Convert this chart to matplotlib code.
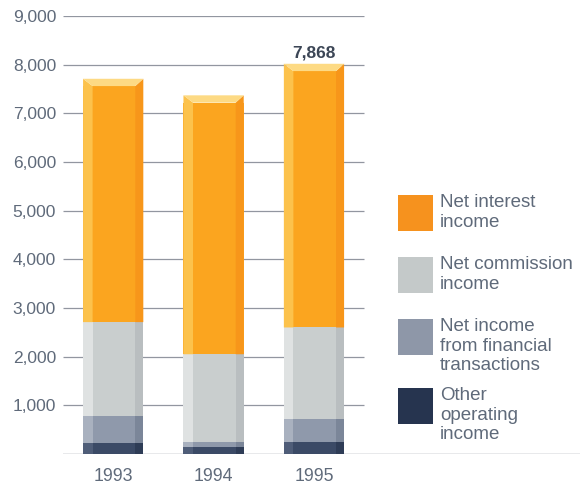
import numpy as np
import matplotlib.pyplot as plt
from matplotlib.patches import Polygon, Rectangle

# Operating income by component, 1993-1995
years = ['1993', '1994', '1995']
other_operating = [230, 150, 250]
financial_transactions = [560, 100, 460]
net_commission = [1920, 1800, 1890]
net_interest = [4850, 5170, 5268]

series = [other_operating, financial_transactions, net_commission, net_interest]
series_names = ['Other\noperating\nincome',
                'Net income\nfrom financial\ntransactions',
                'Net commission\nincome',
                'Net interest\nincome']

# (front, left side, right side) shades for each segment
shades = [('#3b4a66', '#4f5d78', '#2e3c56'),
          ('#8f99ab', '#a9b1bf', '#7b8699'),
          ('#c9cece', '#dfe2e2', '#b9bec0'),
          ('#fba51f', '#fcc24c', '#f7961a')]
cap_color = '#fdda84'
legend_colors = ['#26344f', '#8e97a8', '#c4c9c9', '#f6921e']

text_col = '#5f6a7a'
plt.rcParams['font.family'] = ['Liberation Sans', 'DejaVu Sans']

fig = plt.figure(figsize=(5.82, 4.86), dpi=100)
W, H = 582, 486
ax = fig.add_axes([63 / W, (486 - 454) / H, (580 - 63) / W, (454 - 16) / H])
ax.set_xlim(-0.5, 4.65)
ax.set_ylim(0, 9000)

yticks = np.arange(1000, 9001, 1000)
ax.hlines(yticks, -0.5, 2.5, color='#9296a0', lw=0.9, zorder=0)
ax.axhline(0, color='#8a8f99', lw=1.0, zorder=0)

for s in ax.spines.values():
    s.set_visible(False)
ax.set_yticks(yticks)
ax.set_yticklabels([f'{v:,}' for v in yticks])
ax.tick_params(axis='y', length=0, pad=5, labelsize=12.5, labelcolor=text_col)
ax.set_xticks(range(len(years)))
ax.set_xticklabels(years)
ax.tick_params(axis='x', length=0, pad=10, labelsize=12.8, labelcolor=text_col)

width = 0.6
left_w, right_w = 0.095, 0.08
cap = 150
x = np.arange(len(years))
totals = np.sum(series, axis=0)

for i in x:
    x0, x1 = i - width / 2, i + width / 2
    bottom = 0
    for k, vals in enumerate(series):
        front, light, dark = shades[k]
        top = bottom + vals[i]
        ax.bar(i, vals[i], width, bottom=bottom, color=front, zorder=2)
        last = k == len(series) - 1
        top_l = top + cap if last else top
        ax.add_patch(Polygon([(x0, bottom), (x0 + left_w, bottom), (x0 + left_w, top), (x0, top_l)],
                             closed=True, color=light, lw=0, zorder=3))
        ax.add_patch(Polygon([(x1 - right_w, bottom), (x1, bottom), (x1, top_l), (x1 - right_w, top)],
                             closed=True, color=dark, lw=0, zorder=3))
        if last:
            ax.add_patch(Polygon([(x0, top_l), (x1, top_l), (x1 - right_w, top), (x0 + left_w, top)],
                                 closed=True, color=cap_color, lw=0, zorder=3))
        bottom = top

ax.annotate(f'{totals[-1]:,}', (x[-1], totals[-1]), xytext=(0, 9.5), textcoords='offset points',
            ha='center', va='baseline', fontsize=12.5, fontweight='bold', color='#3c4656')

# legend drawn by hand, top entry first
patch_tops = [195, 257, 319, 388]
for j, top in enumerate(patch_tops):
    k = len(series) - 1 - j
    fig.add_artist(Rectangle((398 / W, (H - top - 36) / H), 35 / W, 36 / H,
                             transform=fig.transFigure, color=legend_colors[k], lw=0))
    fig.text(440 / W, (H - top + 1) / H, series_names[k], ha='left', va='top',
             fontsize=13.5, color=text_col, linespacing=1.2)

fig.savefig('out.png', dpi=100, facecolor='white')
